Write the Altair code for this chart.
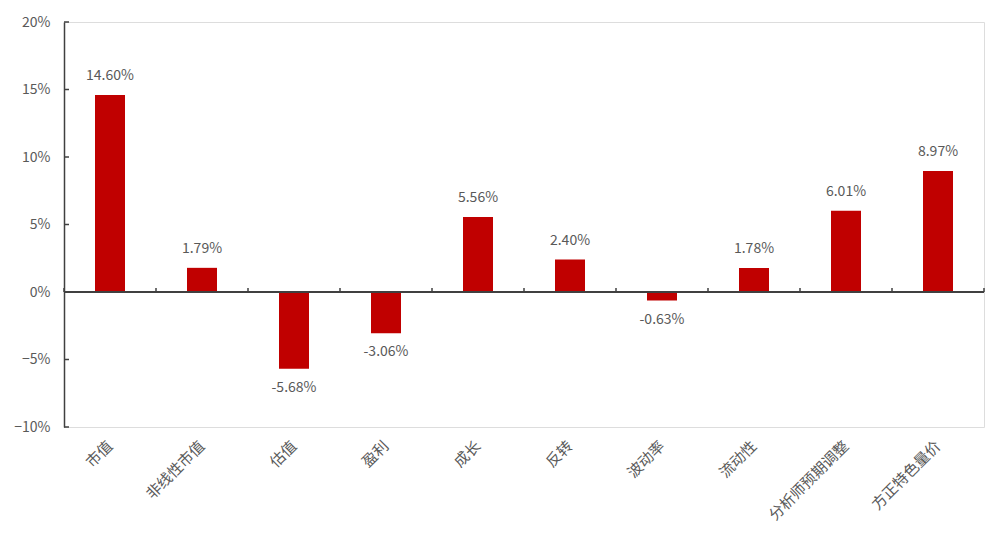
import altair as alt
import pandas as pd

categories = ["市值", "非线性市值", "估值", "盈利", "成长", "反转", "波动率", "流动性", "分析师预期调整", "方正特色量价"]
values = [14.60, 1.79, -5.68, -3.06, 5.56, 2.40, -0.63, 1.78, 6.01, 8.97]
y_ticks = [-0.10, -0.05, 0.0, 0.05, 0.10, 0.15, 0.20]

df = pd.DataFrame({
    "cat": categories,
    "v": [v / 100 for v in values],
    "label": [f"{v:.2f}%" for v in values],
})
ticks_df = pd.DataFrame({"t": y_ticks})

FONT = "Noto Sans CJK SC"
GRAY = "#595959"
AXIS = "#404040"
RED = "#C00000"

xenc = alt.X("cat:N", sort=categories, title=None,
             scale=alt.Scale(paddingInner=0, paddingOuter=0),
             axis=alt.Axis(labelAngle=-45, labelAlign="right", labelBaseline="middle",
                           labelPadding=16, tickSize=0, domain=False,
                           labelFont=FONT, labelFontSize=15, labelColor=GRAY))
yscale = alt.Scale(domain=[-0.10, 0.20], nice=False, zero=False)
yenc = alt.Y("v:Q", scale=yscale, title=None,
             axis=alt.Axis(values=y_ticks, format=".0%", tickSize=0, labelPadding=14,
                           domainColor=AXIS, domainWidth=1.5, grid=False,
                           labelFont=FONT, labelFontSize=14, labelColor=GRAY))

bars = alt.Chart(df).mark_bar(color=RED, size=30).encode(x=xenc, y=yenc)

pos = alt.Chart(df).transform_filter("datum.v >= 0").mark_text(
    baseline="bottom", dy=-12, font=FONT, fontSize=14, color=GRAY
).encode(x=alt.X("cat:N", sort=categories), y=alt.Y("v:Q", scale=yscale), text="label:N")

neg = alt.Chart(df).transform_filter("datum.v < 0").mark_text(
    baseline="top", dy=12, font=FONT, fontSize=14, color=GRAY
).encode(x=alt.X("cat:N", sort=categories), y=alt.Y("v:Q", scale=yscale), text="label:N")

zero = alt.Chart(df).mark_rule(color=AXIS, strokeWidth=1.5).encode(y=alt.datum(0, scale=yscale))

btick = alt.Chart(df).mark_rule(color=AXIS, strokeWidth=1.5).encode(
    x=alt.X("cat:N", sort=categories, bandPosition=0),
    y=alt.datum(0, scale=yscale), y2=alt.datum(0.003))
btick_end = alt.Chart(df.tail(1)).mark_rule(color=AXIS, strokeWidth=1.5).encode(
    x=alt.X("cat:N", sort=categories, bandPosition=1),
    y=alt.datum(0, scale=yscale), y2=alt.datum(0.003))

yticks = alt.Chart(ticks_df).mark_rule(color=AXIS, strokeWidth=1.5).encode(
    y=alt.Y("t:Q", scale=yscale), x=alt.value(0), x2=alt.value(5))

chart = alt.layer(bars, zero, btick, btick_end, yticks, pos, neg).properties(
    width=920, height=405,
    padding={"left": 56, "top": 14, "right": 10, "bottom": 105},
    autosize=alt.AutoSizeParams(type="none"),
).configure_view(stroke=None).configure(background="white")

chart.save("out.html", embed_options={"renderer": "svg", "actions": False})
